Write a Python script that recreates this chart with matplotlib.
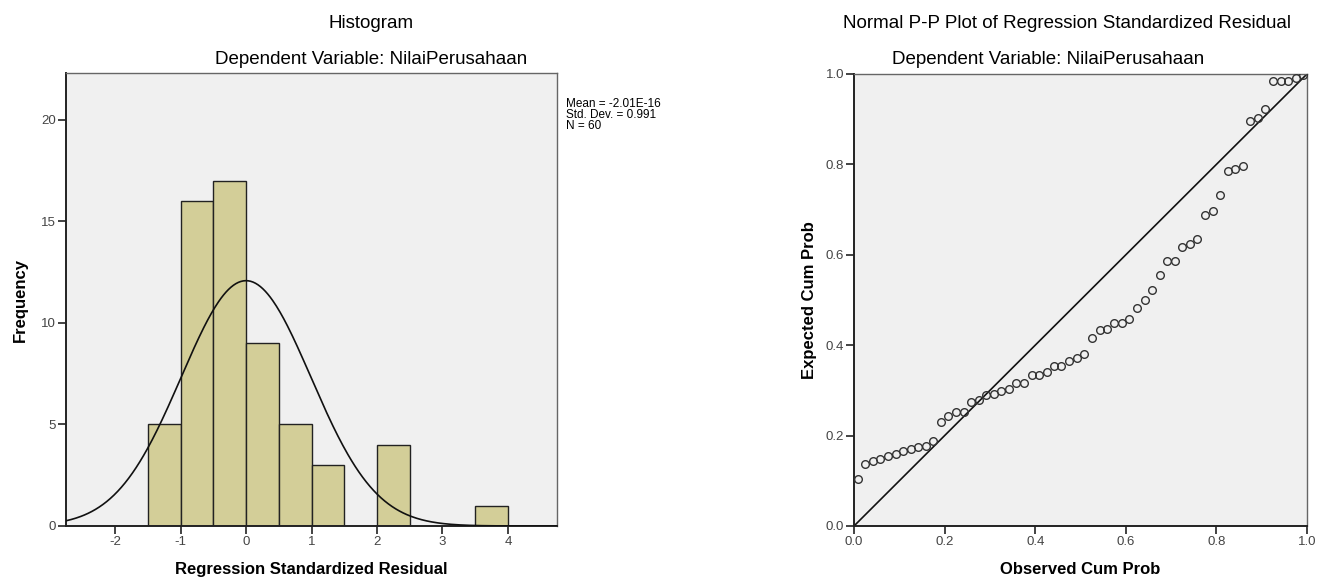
import numpy as np
import matplotlib.pyplot as plt

plt.rcParams['font.family'] = ['Liberation Sans', 'DejaVu Sans']
plt.rcParams['axes.unicode_minus'] = False

# histogram of residuals
bin_left = [-1.5, -1.0, -0.5, 0.0, 0.5, 1.0, 2.0, 3.5]
counts = [5, 16, 17, 9, 5, 3, 4, 1]
bin_width = 0.5
res_mean = -2.01e-16
res_std = 0.991
n_obs = 60

# normal P-P plot
obs_cum = [0.008, 0.025, 0.042, 0.058, 0.075, 0.092, 0.108, 0.125, 0.142, 0.158,
           0.175, 0.192, 0.208, 0.225, 0.242, 0.258, 0.275, 0.292, 0.308, 0.325,
           0.342, 0.358, 0.375, 0.392, 0.408, 0.425, 0.442, 0.458, 0.475, 0.492,
           0.508, 0.525, 0.542, 0.558, 0.575, 0.592, 0.608, 0.625, 0.642, 0.658,
           0.675, 0.692, 0.708, 0.725, 0.742, 0.758, 0.775, 0.792, 0.808, 0.825,
           0.842, 0.858, 0.875, 0.892, 0.908, 0.925, 0.942, 0.958, 0.975, 0.992]
exp_cum = [0.103, 0.137, 0.143, 0.148, 0.155, 0.160, 0.165, 0.170, 0.175, 0.178,
           0.189, 0.229, 0.243, 0.253, 0.253, 0.275, 0.279, 0.289, 0.293, 0.298,
           0.302, 0.316, 0.316, 0.333, 0.333, 0.341, 0.353, 0.355, 0.364, 0.372,
           0.380, 0.417, 0.434, 0.436, 0.449, 0.449, 0.459, 0.483, 0.500, 0.523,
           0.556, 0.586, 0.586, 0.618, 0.624, 0.635, 0.687, 0.696, 0.733, 0.786,
           0.790, 0.796, 0.897, 0.903, 0.922, 0.984, 0.984, 0.985, 0.992, 0.997]

bg = "#f0f0f0"
bar_color = "#d3ce98"
tick_color = "#444444"


def style_axes(ax):
    ax.set_facecolor(bg)
    for side in ["left", "bottom"]:
        ax.spines[side].set_color("#222222")
        ax.spines[side].set_linewidth(1.4)
    for side in ["top", "right"]:
        ax.spines[side].set_color("#666666")
        ax.spines[side].set_linewidth(1.0)
    ax.tick_params(direction="out", length=5.5, width=1.2, color="#222222", pad=1.5,
                   labelsize=9.5, labelcolor=tick_color)


fig = plt.figure(figsize=(13.28, 5.8), dpi=100)

# ---- histogram ----
ax1 = fig.add_axes([66 / 1328, 54 / 580, 491 / 1328, 453 / 580])
style_axes(ax1)
ax1.bar(bin_left, counts, width=bin_width, align="edge", color=bar_color,
        edgecolor="#222222", linewidth=1.0, zorder=2)
x_curve = np.linspace(-2.75, 4.75, 400)
pdf = np.exp(-0.5 * ((x_curve - res_mean) / res_std) ** 2) / (res_std * np.sqrt(2 * np.pi))
ax1.plot(x_curve, n_obs * bin_width * pdf, color="#111111", linewidth=1.2, zorder=3)
ax1.set_xlim(-2.75, 4.75)
ax1.set_ylim(0, 22.3)
ax1.set_xticks([-2, -1, 0, 1, 2, 3, 4])
ax1.set_yticks([0, 5, 10, 15, 20])
ax1.set_xlabel("Regression Standardized Residual", fontsize=12, fontweight="bold", labelpad=10)
ax1.set_ylabel("Frequency", fontsize=12, fontweight="bold", labelpad=10)

fig.text(566 / 1328, 1 - 98 / 580,
         "Mean = %.2E\nStd. Dev. = %.3f\nN = %d" % (res_mean, res_std, n_obs),
         fontsize=8.5, va="top", ha="left", linespacing=0.9)
fig.text(371 / 1328, 1 - 23 / 580, "Histogram", fontsize=13.5, ha="center", va="center")
fig.text(371 / 1328, 1 - 59 / 580, "Dependent Variable: NilaiPerusahaan",
         fontsize=13.5, ha="center", va="center")

# ---- P-P plot ----
ax2 = fig.add_axes([854 / 1328, 54 / 580, 453 / 1328, 452 / 580])
style_axes(ax2)
ax2.plot([0, 1], [0, 1], color="#111111", linewidth=1.2, zorder=2)
ax2.plot(obs_cum, exp_cum, linestyle="none", marker="o", markersize=5.5,
         markerfacecolor="none", markeredgecolor="#333333", markeredgewidth=1.0, zorder=3)
ax2.set_xlim(0, 1)
ax2.set_ylim(0, 1)
ticks = [0.0, 0.2, 0.4, 0.6, 0.8, 1.0]
ax2.set_xticks(ticks)
ax2.set_yticks(ticks)
ax2.set_xticklabels(["%.1f" % t for t in ticks])
ax2.set_yticklabels(["%.1f" % t for t in ticks])
ax2.set_xlabel("Observed Cum Prob", fontsize=12, fontweight="bold", labelpad=10)
ax2.set_ylabel("Expected Cum Prob", fontsize=12, fontweight="bold", labelpad=6)

fig.text(1067 / 1328, 1 - 23 / 580, "Normal P-P Plot of Regression Standardized Residual",
         fontsize=13.5, ha="center", va="center")
fig.text(1048 / 1328, 1 - 59 / 580, "Dependent Variable: NilaiPerusahaan",
         fontsize=13.5, ha="center", va="center")

fig.savefig("out.png", dpi=100, facecolor="white")
